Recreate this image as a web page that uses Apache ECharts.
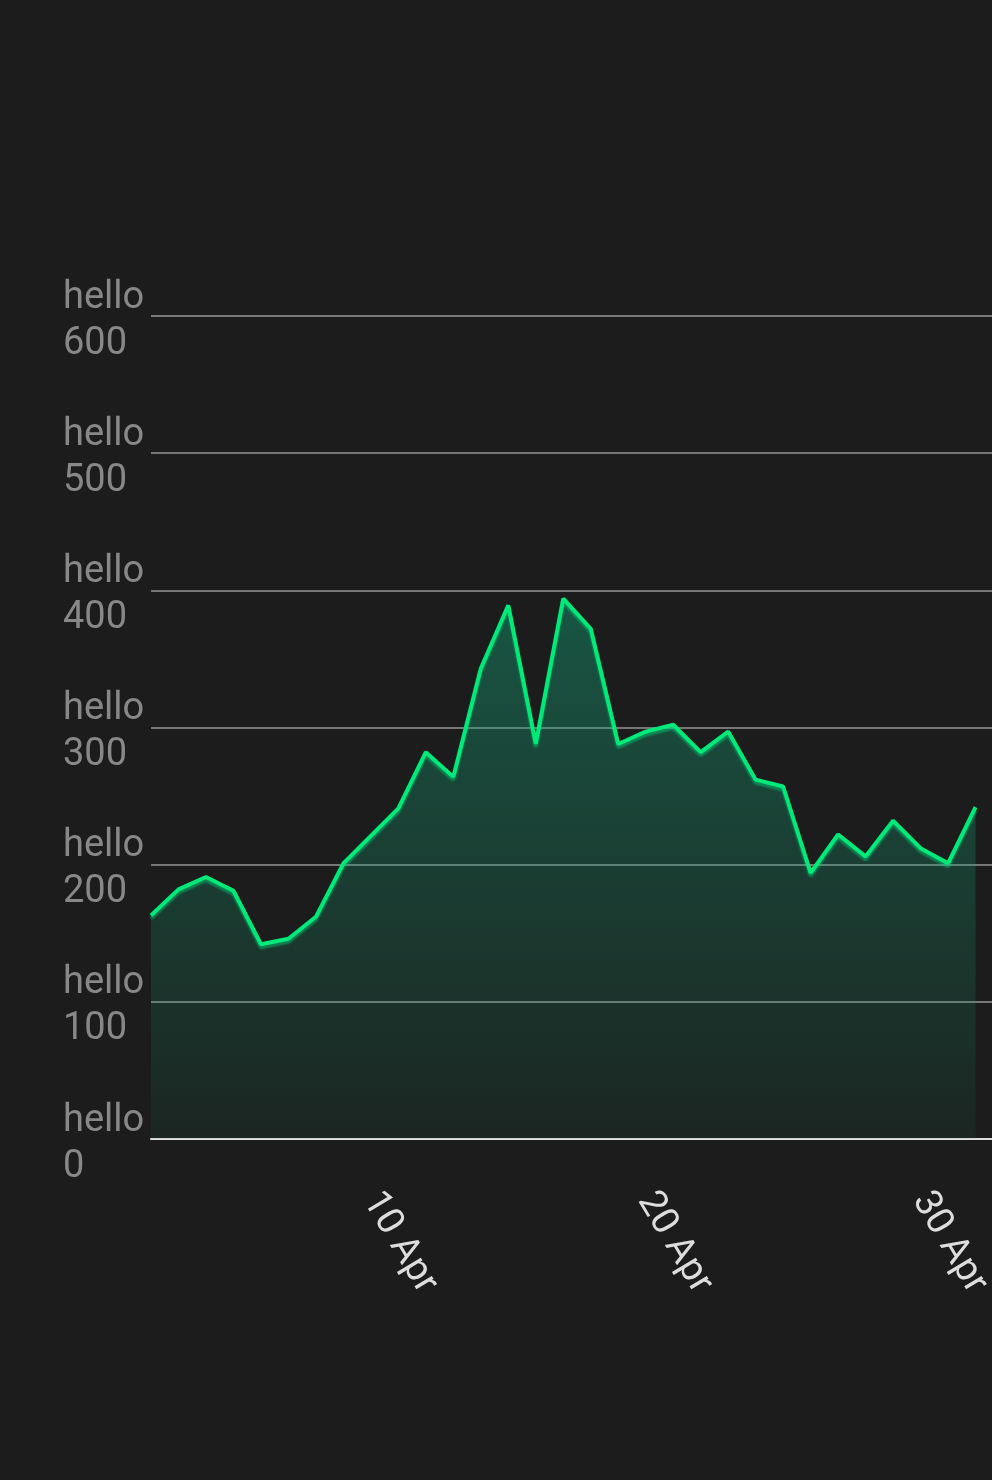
<!DOCTYPE html>
<html>
<head>
<meta charset="utf-8">
<script src="https://cdn.jsdelivr.net/npm/echarts@6/dist/echarts.min.js"></script>
<style>
html,body{margin:0;padding:0;background:#1c1c1c;}
#c{width:992px;height:1480px;}
</style>
</head>
<body>
<div id="c"></div>
<script>
// Day of April for each point
const days = [2,3,4,5,6,7,8,9,10,11,12,13,14,15,16,17,18,19,20,21,22,23,24,25,26,27,28,29,30,31,32];
const values = [163,182,191,181,142,146,162,201,221,241,282,264,343,389,288,394,372,288,297,302,282,297,262,257,194,222,206,232,212,201,242];
const xTickDays = [10,20,30];
const yTicks = [0,100,200,300,400,500,600];

const chart = echarts.init(document.getElementById('c'), null, {renderer:'canvas'});
chart.setOption({
  backgroundColor:'#1c1c1c',
  animation:false,
  grid:{left:151,right:0,top:316,bottom:341,containLabel:false,outerBoundsMode:'none'},
  xAxis:{
    type:'value',
    min:2,
    max:32.6,
    splitLine:{show:false},
    axisTick:{show:false},
    axisLine:{show:true,lineStyle:{color:'#dddddd',width:2}},
    axisLabel:{
      customValues:xTickDays,
      formatter:v=>v+' Apr',
      rotate:-59,
      margin:56,
      color:'#dddddd',
      fontSize:38,
      fontFamily:'Roboto'
    }
  },
  yAxis:{
    type:'value',
    min:yTicks[0],
    max:yTicks[yTicks.length-1],
    interval:100,
    axisLine:{show:false},
    axisTick:{show:false},
    splitLine:{show:true,lineStyle:{color:'#777777',width:2}},
    axisLabel:{
      formatter:v=>'{s| }\n{t|hello}\n{t|'+v+'}',
      align:'left',
      margin:88,
      rich:{
        s:{fontSize:2,lineHeight:10,height:10},
        t:{color:'#888888',fontSize:38,lineHeight:46,fontFamily:'Roboto'}
      }
    }
  },
  series:[{
    type:'line',
    data:days.map((d,i)=>[d,values[i]]),
    symbol:'none',
    lineStyle:{width:4,color:'#00ea7a',shadowColor:'rgba(0,210,120,0.5)',shadowBlur:2,shadowOffsetY:3},
    itemStyle:{color:'#00ea7a'},
    areaStyle:{
      color:new echarts.graphic.LinearGradient(0,0,0,1,[
        {offset:0,color:'rgba(20,165,120,0.6)'},
        {offset:1,color:'rgba(20,165,120,0.1)'}
      ])
    }
  }]
});
</script>
</body>
</html>
